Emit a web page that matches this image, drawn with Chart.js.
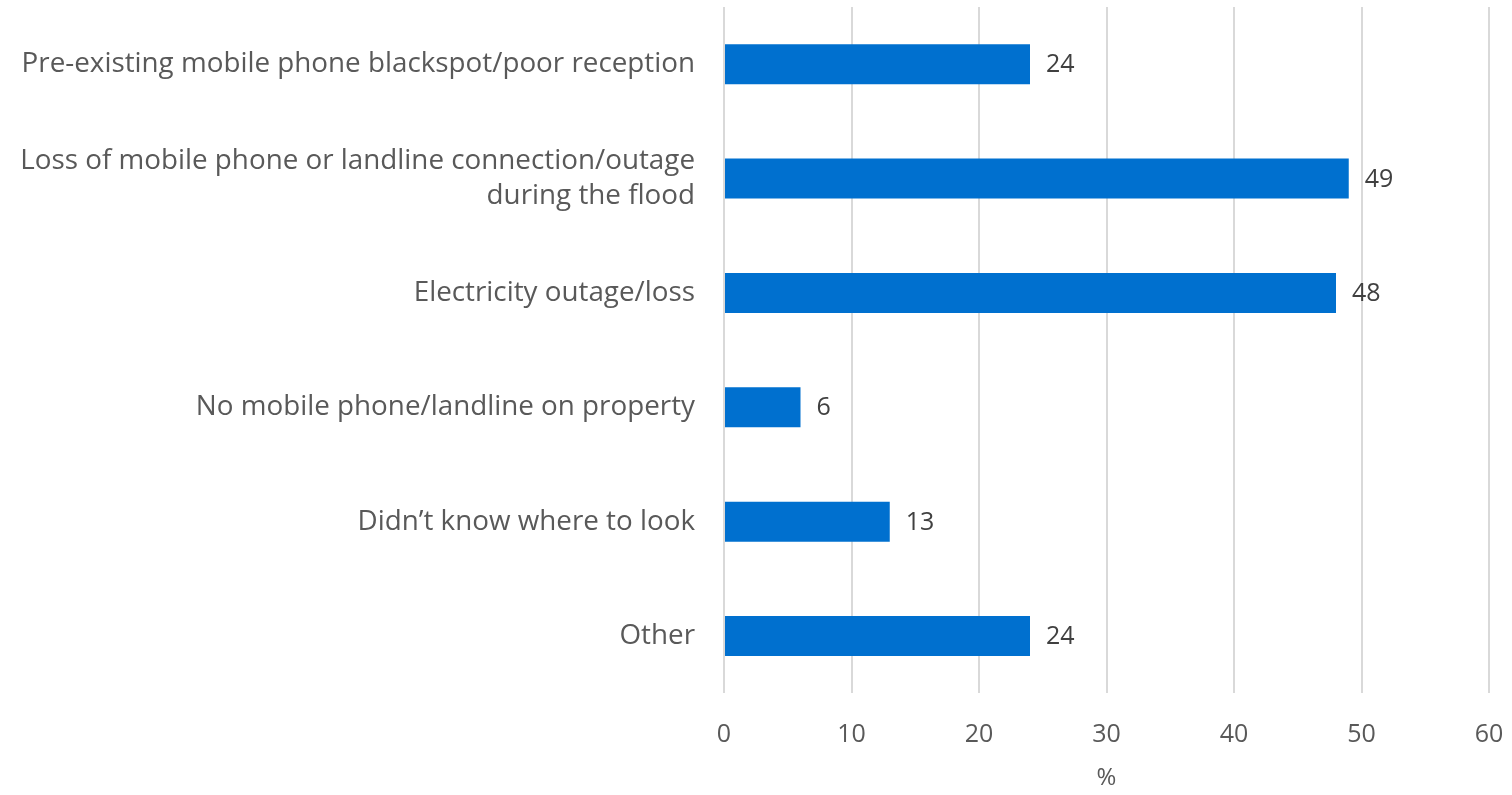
<!DOCTYPE html>
<html>
<head>
<meta charset="utf-8">
<script src="https://cdn.jsdelivr.net/npm/chart.js@4"></script>
<style>
  html, body { margin: 0; padding: 0; background: #fff; }
  #wrap { width: 1512px; height: 795px; }
</style>
</head>
<body>
<div id="wrap"><canvas id="reasonChart"></canvas></div>
<script>
// reasons for not getting flood information
const categories = [
   "Pre-existing mobile phone blackspot/poor reception",
   ["Loss of mobile phone or landline connection/outage", "during the flood"],
   "Electricity outage/loss",
   "No mobile phone/landline on property",
   "Didn\u2019t know where to look",
   "Other",
];
const percents = [24, 49, 48, 6, 13, 24];
const xTicks = [0, 10, 20, 30, 40, 50, 60];

const FONT = "'Open Sans', sans-serif";

// value labels drawn just past the end of each bar
const barValueLabels = {
   id: "barValueLabels",
   afterDatasetsDraw(chart) {
      const ctx = chart.ctx;
      const meta = chart.getDatasetMeta(0);
      ctx.save();
      ctx.font = "25px " + FONT;
      ctx.fillStyle = "#404040";
      ctx.textAlign = "left";
      ctx.textBaseline = "middle";
      meta.data.forEach(function (bar, i) {
         ctx.fillText(String(percents[i]), bar.x + 16, bar.y + 1);
      });
      ctx.restore();
   },
};

const reasonchart = document.getElementById("reasonChart").getContext("2d");

const reasonChart = new Chart(reasonchart, {
   type: "bar",
   data: {
      labels: categories,
      datasets: [
         {
            label: "%",
            data: percents,
            backgroundColor: "#0070CF",
            borderWidth: 0,
            barPercentage: 0.35,
            categoryPercentage: 1,
         },
      ],
   },
   options: {
      indexAxis: "y",
      responsive: true,
      maintainAspectRatio: false,
      animation: false,
      layout: {
         padding: { left: 12, right: 23, top: 7, bottom: 2 },
      },
      plugins: {
         legend: { display: false },
         tooltip: { enabled: false },
      },
      scales: {
         x: {
            min: 0,
            max: 60,
            afterBuildTicks(axis) {
               axis.ticks = xTicks.map(function (v) { return { value: v }; });
            },
            afterFit(scale) {
               scale.paddingRight = 0;
               scale.paddingLeft = 0;
            },
            grid: {
               color: "#d9d9d9",
               lineWidth: 2,
               drawTicks: false,
            },
            border: { display: false },
            ticks: {
               color: "#595959",
               font: { family: FONT, size: 25 },
               padding: 27,
            },
            title: {
               display: true,
               text: "%",
               color: "#595959",
               font: { family: FONT, size: 24 },
               padding: { top: -13, bottom: 0 },
            },
         },
         y: {
            grid: { display: false },
            border: { display: false },
            afterFit(scale) {
               // fixed label column; keep the two-line label from pushing the plot down
               scale.width = 712;
               scale.paddingTop = 0;
               scale.paddingBottom = 0;
            },
            ticks: {
               color: "#595959",
               font: { family: FONT, size: 27.8, lineHeight: 1.25 },
               padding: 21,
            },
         },
      },
   },
   plugins: [barValueLabels],
});
</script>
</body>
</html>
